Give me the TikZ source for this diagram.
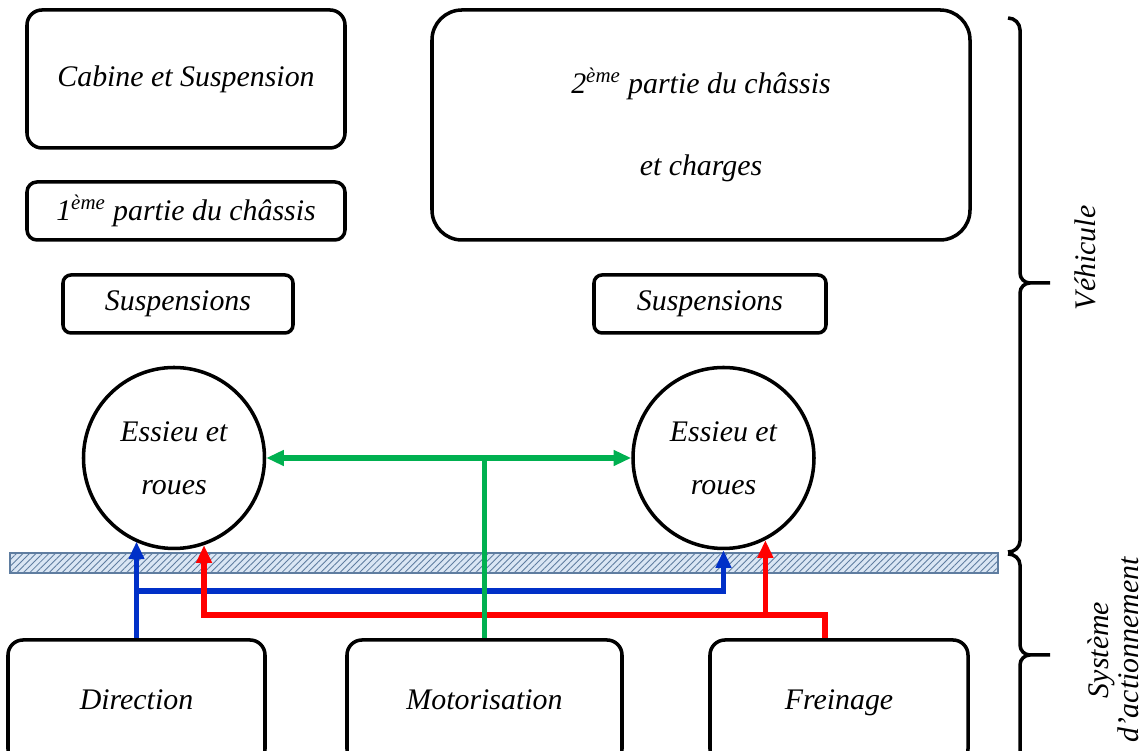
\documentclass[tikz,border=0pt]{standalone}
\usepackage{fontspec}
\setmainfont{Liberation Serif}
\usetikzlibrary{arrows.meta,patterns.meta}
\definecolor{dirblue}{RGB}{0,48,200}
\definecolor{motgreen}{RGB}{0,176,80}
\definecolor{frered}{RGB}{255,0,0}
\definecolor{barfill}{RGB}{218,230,244}
\definecolor{barline}{RGB}{95,125,160}

\begin{document}
\begin{tikzpicture}[
    >={Triangle[length=10pt,width=8.5pt]},
    txt/.style={font=\fontsize{17}{20}\selectfont\itshape, align=center},
    bloc/.style={txt, draw, line width=2pt, rounded corners=0.3cm, inner sep=0pt},
    bas/.style={bloc, minimum height=2.48cm, text height=1.05em, text depth=0.22em},
    roue/.style={txt, draw, circle, line width=2pt, minimum size=3.62cm, inner sep=0pt},
    lien/.style={line width=3pt},
    accolade/.style={line width=2pt}
]
\useasboundingbox (0,0) rectangle (22.88,15.02);
\clip (0,0) rectangle (22.88,15.02);

% vehicule
\node[bloc, minimum width=6.36cm, minimum height=2.76cm] (cabine) at (3.72,13.44) {Cabine et Suspension};
\node[bloc, rounded corners=0.2cm, minimum width=6.36cm, minimum height=1.16cm] (chassisA) at (3.72,10.8) {1\textsuperscript{ème} partie du châssis};
\node[bloc, rounded corners=0.6cm, minimum width=10.76cm, minimum height=4.6cm] (chassisB) at (14.02,12.52) {2\textsuperscript{ème} partie du châssis\\[27pt] et charges};
\node[bloc, rounded corners=0.16cm, minimum width=4.6cm, minimum height=1.16cm] (suspA) at (3.56,8.94) {Suspensions};
\node[bloc, rounded corners=0.16cm, minimum width=4.64cm, minimum height=1.16cm] (suspB) at (14.2,8.94) {Suspensions};
\node[roue] (essieuA) at (3.48,5.86) {Essieu et\\[10pt] roues};
\node[roue] (essieuB) at (14.47,5.86) {Essieu et\\[10pt] roues};

% sol
\draw[barline, line width=0.7pt, preaction={fill=barfill}, pattern={Lines[angle=45,distance=2.6pt,line width=0.5pt]}, pattern color=barline] (0.2,3.56) rectangle (19.96,3.96);

% actionnement
\node[bas, minimum width=5.14cm] (direction) at (2.73,0.98) {Direction};
\node[bas, minimum width=5.5cm] (motorisation) at (9.69,0.98) {Motorisation};
\node[bas, minimum width=5.16cm] (freinage) at (16.78,0.98) {Freinage};

% liaisons
\coordinate (bleu) at (direction.north |- 0,3.2);
\draw[lien, dirblue, ->] (direction.north) -- (direction.north |- essieuA.245);
\draw[lien, dirblue, ->] (bleu) -| (essieuB.south);

\coordinate (rouge) at ([xshift=-0.28cm]freinage.north);
\coordinate (rougeA) at (essieuA.289 |- 0,2.72);
\draw[lien, frered, ->] (rouge) |- (rougeA) -- (essieuA.289);
\draw[lien, frered, ->] (essieuB.297 |- rougeA) -- (essieuB.297);

\draw[lien, motgreen, <->] (essieuA) -- (essieuB);
\draw[lien, motgreen] (motorisation.north) -- (motorisation.north |- essieuA);

% accolades
\draw[accolade] (20.16,14.66) to[out=0,in=90] (20.4,14.42) -- (20.4,9.56) to[out=-90,in=180] (20.6,9.36) -- (21.0,9.36);
\draw[accolade] (20.6,9.36) to[out=180,in=90] (20.4,9.16) -- (20.4,4.2) to[out=-90,in=0] (20.16,3.98);
\draw[accolade] (20.16,3.94) to[out=0,in=90] (20.4,3.72) -- (20.4,2.12) to[out=-90,in=180] (20.6,1.92) -- (21.0,1.92);
\draw[accolade] (20.6,1.92) to[out=180,in=90] (20.4,1.72) -- (20.4,-0.5);
\node[txt, rotate=90] (vehicule) at (21.7,9.86) {Véhicule};
\node[txt, rotate=90] (systeme) at (22.26,2.02) {Système\\[-3pt] d'actionnement};
\end{tikzpicture}
\end{document}
